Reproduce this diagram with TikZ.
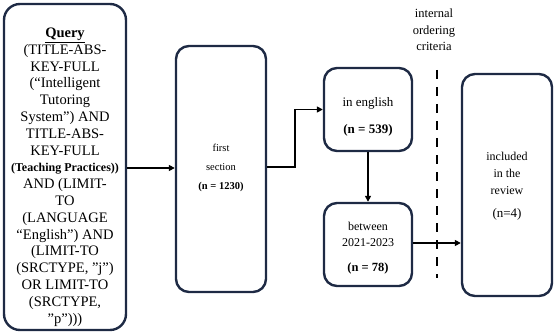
\documentclass[tikz,border=0pt]{standalone}
\usepackage{fontspec}
\setmainfont{Liberation Serif}
\usetikzlibrary{arrows.meta}
\definecolor{boxline}{RGB}{30,42,68}
\begin{document}
\begin{tikzpicture}[x=1pt,y=-1pt,
  stagebox/.style={draw=boxline,line width=2.4pt,rounded corners=13pt,inner sep=0pt},
  txt/.style={align=center,inner sep=0pt,anchor=base},
  flow/.style={draw=black,line width=1.6pt,-{Triangle[length=6pt,width=6pt]}}]
\useasboundingbox (0,0) rectangle (554,334);
% boxes
\node[stagebox,minimum width=122pt,minimum height=326pt,rounded corners=16pt] (q) at (65,167) {};
\node[stagebox,minimum width=90pt,minimum height=246pt] (fs) at (221,169) {};
\node[stagebox,minimum width=88pt,minimum height=83pt] (en) at (368,109.5) {};
\node[stagebox,minimum width=88pt,minimum height=83pt] (bw) at (368,244.5) {};
\node[stagebox,minimum width=90pt,minimum height=222pt] (inc) at (507,185) {};
% query text (anchored at the baseline of its last line)
\node[txt,font=\fontsize{14.5}{16.8}\selectfont] (qt) at (65,323) {%
\textbf{\underline{Query}}\\
(TITLE-ABS-\\
KEY-FULL\\
(“Intelligent\\
Tutoring\\
System”) AND\\
TITLE-ABS-\\
KEY-FULL\\
{\fontsize{12}{16.8}\selectfont\textbf{(Teaching Practices))}}\\
AND (LIMIT-\\
TO\\
(LANGUAGE\\
“English”) AND\\
(LIMIT-TO\\
(SRCTYPE, "j")\\
OR LIMIT-TO\\
(SRCTYPE,\\
"p")))};
% other texts
\node[txt,font=\fontsize{10.5}{18.5}\selectfont] (fst) at (221,189) {first\\section\\\textbf{(n = 1230)}};
\node[txt,font=\fontsize{13}{28}\selectfont] (ent) at (368,134) {in english\\\textbf{(n = 539)}};
\node[txt,font=\fontsize{12}{16}\selectfont] (bwt) at (368,246) {between\\2021-2023};
\node[txt,font=\fontsize{12.5}{16}\selectfont] (bwn) at (368,271) {\textbf{(n = 78)}};
\node[txt,font=\fontsize{12}{17}\selectfont] (inct) at (507,194) {included\\in the\\review};
\node[txt,font=\fontsize{13}{16}\selectfont] (incn) at (507,217) {(n=4)};
\node[txt,font=\fontsize{12.5}{16.8}\selectfont] (lab) at (434,51) {internal\\ordering\\criteria};
% connectors
\draw[flow] (q.east |- 0,168) -- (fs.west |- 0,168);
\draw[flow] (fs.east |- 0,167) -- (295,167) |- (en.west);
\draw[flow] (en.south) -- (bw.north);
\draw[flow] (bw.east |- 0,243) -- (inc.west |- 0,243);
% dashed separator
\coordinate (dtop) at (437,70);
\coordinate (dbot) at (437,278);
\draw[line width=2.6pt,dash pattern=on 9pt off 8pt] (dtop) -- (dbot);
\end{tikzpicture}
\end{document}
